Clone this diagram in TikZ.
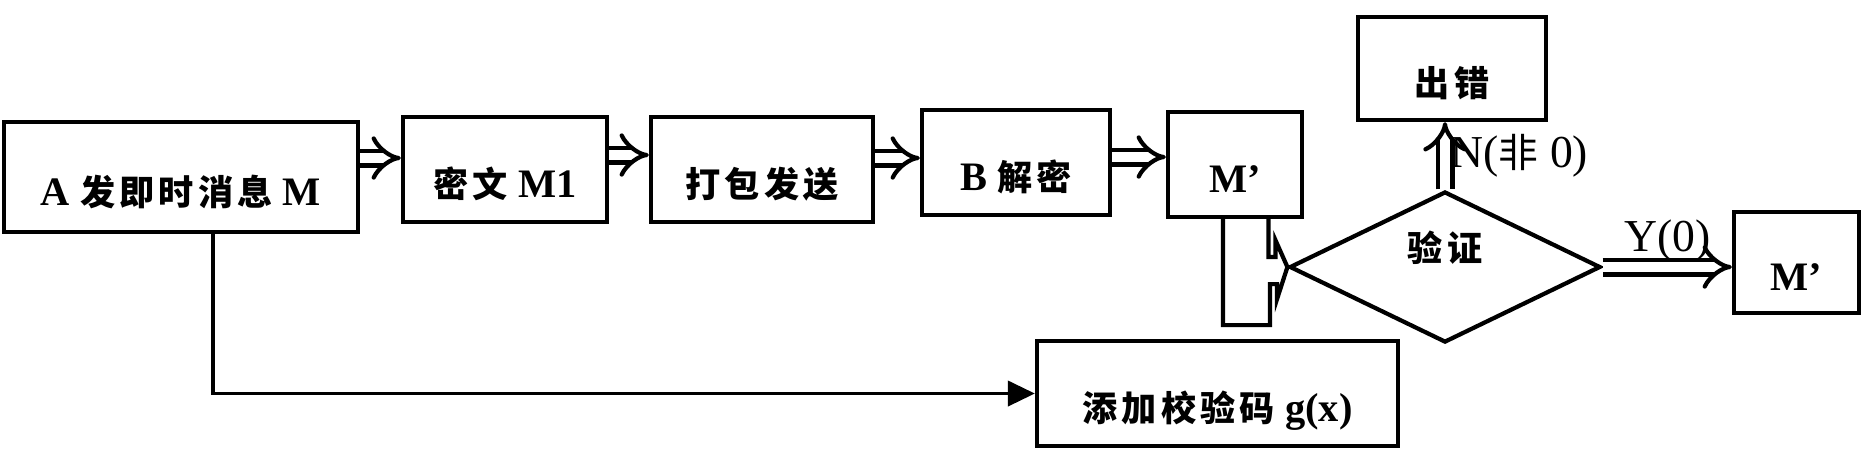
\documentclass[tikz,border=0pt]{standalone}
\usepackage{fontspec}
\setmainfont{Liberation Serif}
\newfontfamily\cjk[Scale=0.87,LetterSpace=12]{Noto Sans CJK SC}
\newcommand{\zh}[1]{{\cjk #1}}
\usetikzlibrary{arrows.meta,shapes.geometric}

\begin{document}
\begin{tikzpicture}[
    box/.style={draw, line width=1.2pt, inner sep=0pt, text height=16pt, text depth=0pt,
      font=\fontsize{11.5}{13}\selectfont\bfseries},
    dia/.style={draw, diamond, line width=1.2pt, inner sep=0pt, text height=0pt, text depth=3.2pt,
      minimum width=3.11cm, minimum height=1.51cm, font=\fontsize{11.5}{13}\selectfont\bfseries},
    dbl/.style={double, double distance=3pt, line width=1.2pt, -{Implies}},
    lbl/.style={font=\fontsize{13}{15}\selectfont, inner sep=1pt}
  ]
    \useasboundingbox (0, 0) rectangle (18.63, -4.49);
    \node[box, minimum width=3.54cm, minimum height=1.10cm](a) at (1.81, -1.77) {A \zh{发即时消息} M};
    \node[box, minimum width=2.04cm, minimum height=1.05cm](m1) at (5.05, -1.695) {\zh{密文} M1};
    \node[box, minimum width=2.22cm, minimum height=1.05cm](pk) at (7.62, -1.695) {\zh{打包发送}};
    \node[box, minimum width=1.88cm, minimum height=1.05cm](bd) at (10.16, -1.625) {B \zh{解密}};
    \node[box, minimum width=1.34cm, minimum height=1.05cm](mp) at (12.35, -1.645) {M'};
    \node[box, minimum width=1.88cm, minimum height=1.03cm](err) at (14.52, -0.685) {\zh{出错}};
    \node[dia](ver) at (14.45, -2.67) {\zh{验证}};
    \node[box, minimum width=1.25cm, minimum height=1.01cm](mq) at (17.965, -2.625) {M'};
    \node[box, minimum width=3.61cm, minimum height=1.05cm](chk) at (12.175, -3.935) {\zh{添加校验码} g(x)};
    \draw[dbl] ([yshift=0.19cm]a.east) -- ([yshift=0.19cm]a.east -| m1.west);
    \draw[dbl] ([yshift=0.145cm]m1.east) -- ([yshift=0.145cm]m1.east -| pk.west);
    \draw[dbl] ([yshift=0.115cm]pk.east) -- ([yshift=0.115cm]pk.east -| bd.west);
    \draw[dbl] ([yshift=0.055cm]bd.east) -- ([yshift=0.055cm]bd.east -| mp.west);
    \draw[dbl] (ver.north) -- (ver.north |- err.south) node[lbl, midway, right] {N(\zh{非} 0)};
    \draw[dbl] (ver.east) -- (ver.east -| mq.west) node[lbl, midway, above] {Y(0)};
    \draw[line width=1.2pt] ([xshift=-0.12cm]mp.south) -- ++(0, -1.06) -- ++(0.47, 0) -- ++(0, 0.41)
      -- ++(0.07, 0) -- ++(0, -0.15) -- (ver.west) -- ++(-0.12, 0.27) -- ++(0, -0.17) -- ++(-0.07, 0) -- ++(0, 0.40);
    \draw[line width=1.1pt, -{Triangle[length=0.27cm, width=0.25cm]}] ([xshift=0.32cm]a.south) |- (chk.west);
  \end{tikzpicture}
\end{document}
